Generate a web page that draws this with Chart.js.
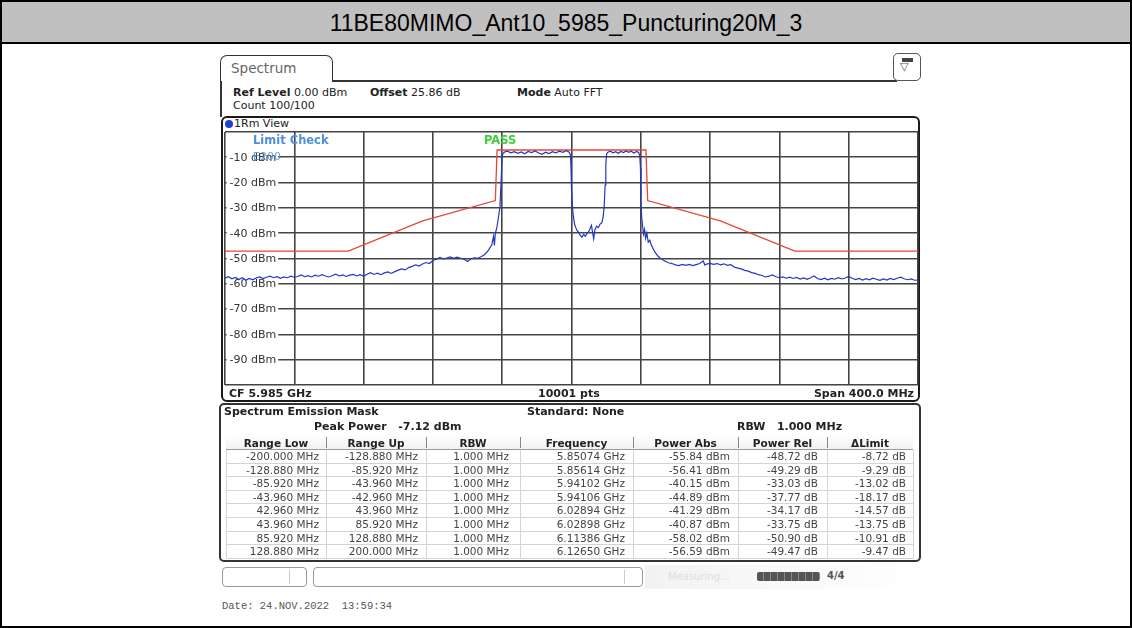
<!DOCTYPE html>
<html><head><meta charset="utf-8">
<script src="https://cdn.jsdelivr.net/npm/chart.js@4.4.0/dist/chart.umd.min.js"></script>
<style>
html,body{margin:0;padding:0;background:#fff;}
#page{position:relative;width:1132px;height:628px;overflow:hidden;font-family:"DejaVu Sans",sans-serif;}
.a{position:absolute;white-space:nowrap;}
.t11{font-size:11px;line-height:13px;color:#222;}
.b{font-weight:bold;}
.cell{position:absolute;box-sizing:border-box;white-space:nowrap;font-size:10.5px;color:#444;text-align:right;overflow:hidden;}
.hcell{position:absolute;box-sizing:border-box;white-space:nowrap;font-size:10.5px;font-weight:bold;color:#222;text-align:center;}
</style></head><body>
<div id="page">
  <div class="a" style="left:0;top:0;width:1132px;height:628px;box-sizing:border-box;border:2px solid #000;"></div>
  <div class="a" style="left:2px;top:2px;width:1128px;height:40px;background:#c0c0c0;border-bottom:2px solid #000;text-align:center;font-family:'Liberation Sans',Arial,sans-serif;font-size:23px;line-height:42px;color:#000;">11BE80MIMO_Ant10_5985_Puncturing20M_3</div>

  <!-- tab -->
  <div class="a" style="left:220px;top:55px;width:113px;height:27px;box-sizing:border-box;border:1.5px solid #333;border-bottom:none;border-radius:7px 7px 0 0;background:#fff;"></div>
  <div class="a" style="left:231px;top:60px;font-size:13.5px;line-height:16px;color:#666;">Spectrum</div>
  <div class="a" style="left:332px;top:80px;width:565px;height:1.5px;background:#333;"></div>
  <div class="a" style="left:893px;top:53px;width:28px;height:28px;box-sizing:border-box;border:1.5px solid #555;border-radius:5px;background:#fff;"></div>
  <div class="a" style="left:902px;top:58px;width:11px;height:4px;background:#444;"></div>
  <div class="a" style="left:900px;top:61px;font-size:11px;line-height:12px;color:#555;">▽</div>
  <div class="a" style="left:220px;top:81px;width:1.5px;height:36px;background:#333;"></div>

  <!-- info -->
  <div class="a t11" style="left:233px;top:86px;"><span class="b">Ref Level</span> 0.00 dBm</div>
  <div class="a t11" style="left:370px;top:86px;"><span class="b">Offset</span> 25.86 dB</div>
  <div class="a t11" style="left:517px;top:86px;"><span class="b">Mode</span> Auto FFT</div>
  <div class="a t11" style="left:233px;top:99px;">Count 100/100</div>

  <!-- plot window frame -->
  <div class="a" style="left:221px;top:116px;width:699px;height:286px;box-sizing:border-box;border:2px solid #1a1a1a;border-radius:6px;background:#fff;"></div>
  <div class="a" style="left:225px;top:120px;width:8px;height:8px;border-radius:50%;background:#1f3fd8;"></div>
  <div class="a t11" style="left:234px;top:117px;">1Rm View</div>

  <canvas id="c" width="702" height="262" style="position:absolute;left:220px;top:128px;"></canvas>

  <div class="a b" style="left:253px;top:133px;font-size:11.5px;line-height:14px;color:#4d8fe0;">Limit Check</div>
  <div class="a b" style="left:484px;top:133px;font-size:11.5px;line-height:14px;color:#3ccf3c;">PASS</div>
  <div class="a" style="left:253px;top:150px;font-size:11px;line-height:13px;color:#4d8fe0;opacity:0.85;">E200</div>

  <div class="a t11 b" style="left:229px;top:387px;">CF 5.985 GHz</div>
  <div class="a t11 b" style="left:538px;top:387px;">10001 pts</div>
  <div class="a t11 b" style="left:808px;top:387px;width:106px;text-align:right;">Span 400.0 MHz</div>

  <!-- table panel -->
  <div class="a" style="left:219px;top:403px;width:702px;height:159px;box-sizing:border-box;border:2px solid #333;border-radius:5px;background:#fff;"></div>
  <div class="a t11 b" style="left:224px;top:405px;">Spectrum Emission Mask</div>
  <div class="a t11 b" style="left:527px;top:405px;">Standard: None</div>
  <div class="a t11 b" style="left:314px;top:420px;">Peak Power&nbsp;&nbsp;&nbsp;-7.12 dBm</div>
  <div class="a t11 b" style="left:737px;top:420px;">RBW&nbsp;&nbsp;&nbsp;1.000 MHz</div>
  <div id="tbl"></div>

  <!-- status bar -->
  <div class="a" style="left:222px;top:567px;width:85px;height:20px;box-sizing:border-box;border:1px solid #999;border-radius:4px;background:#fff;"></div>
  <div class="a" style="left:289px;top:570px;width:1px;height:14px;background:#ccc;"></div>
  <div class="a" style="left:313px;top:567px;width:330px;height:20px;box-sizing:border-box;border:1px solid #999;border-radius:4px;background:#fff;"></div>
  <div class="a" style="left:624px;top:570px;width:1px;height:14px;background:#ccc;"></div>
  <div class="a" style="left:645px;top:565px;width:275px;height:24px;background:linear-gradient(to right,#f2f2f2,#fafafa 60%,#fff);"></div>
  <div class="a" style="left:668px;top:571px;font-size:10px;line-height:12px;color:#ddd;">Measuring...</div>
  <div class="a" style="left:757px;top:572px;width:63px;height:9px;background:repeating-linear-gradient(to right,#555 0,#555 6px,#888 6px,#888 7px);border-radius:2px;"></div>
  <div class="a" style="left:827px;top:570px;font-size:10px;line-height:12px;color:#555;font-weight:bold;">4/4</div>

  <div class="a" style="left:222px;top:600px;font-family:'Liberation Mono',monospace;font-size:10.5px;line-height:13px;color:#555;">Date: 24.NOV.2022&nbsp;&nbsp;13:59:34</div>
</div>
<script>
// ---- trace (Clear/Write, RM detector) : frequency offset in MHz, level in dBm
const traceFreq = [
 -200,-198,-196,-194,-192,-190,-188,-186,-184,-182,-180,-178,-176,-174,-172,-170,-168,-166,-164,-162,
 -160,-158,-156,-154,-152,-150,-148,-146,-144,-142,-140,-138,-136,-134,-132,-130,-128,-126,-124,-122,
 -120,-118,-116,-114,-112,-110,-108,-106,-104,-102,-100,-98,-96,-94,-92,-90,-88,-86,-84,-82,
 -80,-78,-76,-74,-72,-70,-68,-66,-64,-62,-60,-58,-56,-54,-52,-50,-48,-46,-45,-44.5,
 -44,-43,-42,-41.3,-40.8,-40.3,-40,-39.5,-39,-37,-35,-33,-31,-29,-27,-25,-23,-21,-19,-17,
 -15,-13,-11,-9,-7,-5,-3,-1.5,-0.6,-0.3,0,0.4,1,1.8,2.6,3.2,4,5,6,7,
 8,9,10,10.8,11.5,12.2,12.8,13.5,14.5,15.5,16.5,17.5,18.3,18.9,19.4,19.8,20.3,21,22.5,24,
 25.5,27,28.5,30,31.5,33,34.5,36,37.5,38.8,39.4,39.8,40.1,40.5,41,41.6,42.2,42.8,43.5,44.3,
 45.2,46,47,48,49,50,51,52.5,54,56,58,60,62,64,66,68,70,72,74,76,
 77,78,80,82,84,86,88,90,92,94,96,98,100,102,104,106,108,110,112,114,
 116,118,120,122,124,126,128,130,132,134,136,138,140,142,144,146,148,150,152,154,
 156,158,160,162,164,166,168,170,172,174,176,178,180,182,184,186,188,190,192,194,
 196,198,200
];
const traceLevel = [
 -57.8,-57.2,-58.0,-57.5,-58.3,-57.6,-58.6,-57.9,-58.4,-57.7,-57.3,-57.9,-57.4,-57.0,-57.6,-57.2,-57.8,-57.3,-57.6,-57.0,
 -57.4,-57.1,-56.5,-57.2,-56.8,-57.3,-56.6,-57.0,-56.4,-56.9,-57.3,-56.7,-56.2,-56.9,-56.5,-57.1,-56.6,-56.3,-56.9,-56.4,
 -57.0,-56.2,-55.6,-56.3,-55.8,-56.4,-55.7,-55.3,-55.9,-55.2,-54.6,-54.1,-54.5,-53.6,-53.1,-52.5,-53.0,-52.2,-51.6,-52.0,
 -50.8,-50.3,-49.6,-50.1,-49.8,-49.4,-49.9,-49.5,-49.9,-50.3,-51.2,-50.1,-49.7,-49.9,-49.2,-48.4,-46.8,-44.6,-41.2,-44.8,
 -40.3,-37.5,-33.0,-29.6,-22.0,-14.0,-9.5,-8.3,-8.0,-7.6,-8.2,-7.8,-8.4,-7.9,-8.6,-7.7,-8.1,-7.5,-8.3,-8.8,
 -8.0,-8.5,-7.8,-8.2,-7.6,-8.0,-7.4,-7.9,-9.0,-14.0,-22.0,-28.0,-33.0,-36.5,-38.0,-38.9,-39.6,-40.8,-41.6,-40.5,
 -41.2,-40.1,-39.3,-38.0,-36.9,-39.8,-42.2,-38.6,-37.2,-37.8,-36.4,-35.9,-33.5,-29.0,-21.0,-13.0,-8.6,-8.0,-7.6,-8.2,
 -7.8,-8.4,-7.7,-8.1,-7.5,-8.0,-7.6,-8.3,-7.7,-8.1,-9.5,-14.0,-28.0,-33.5,-37.0,-40.5,-38.6,-42.0,-40.0,-43.5,
 -42.8,-44.6,-46.0,-47.3,-48.3,-49.1,-49.8,-50.4,-51.1,-51.7,-52.0,-52.5,-52.8,-52.3,-52.7,-52.3,-52.8,-52.4,-52.0,-51.0,
 -52.6,-52.2,-51.9,-52.3,-52.0,-52.5,-52.1,-52.7,-52.4,-53.4,-53.8,-54.1,-54.7,-55.0,-55.6,-55.9,-56.4,-56.7,-57.3,-57.0,
 -56.5,-57.2,-57.6,-57.3,-57.8,-57.4,-57.9,-57.5,-58.1,-57.7,-58.2,-57.6,-56.9,-57.9,-58.3,-57.8,-58.4,-57.9,-58.2,-57.6,
 -58.1,-57.7,-57.1,-57.8,-58.3,-57.9,-58.5,-58.0,-58.4,-57.8,-58.2,-58.6,-58.1,-58.5,-57.9,-58.3,-57.8,-57.4,-58.0,-58.4,
 -58.1,-58.6,-58.5
];
// ---- spectrum emission mask limit line
const limitFreq  = [-200, -128.88, -85.92, -43.96, -42.96, 42.96, 43.96, 85.92, 128.88, 200];
const limitLevel = [-47.12, -47.12, -35.12, -27.12, -7.12, -7.12, -27.12, -35.12, -47.12, -47.12];
// ---- axis ticks
const yTickValues = [-10, -20, -30, -40, -50, -60, -70, -80, -90];
const yTickLabels = ['-10 dBm','-20 dBm','-30 dBm','-40 dBm','-50 dBm','-60 dBm','-70 dBm','-80 dBm','-90 dBm'];
// ---- result table
const tableHeaders = ['Range Low','Range Up','RBW','Frequency','Power Abs','Power Rel','\u0394Limit'];
const rangeLow  = ['-200.000 MHz','-128.880 MHz','-85.920 MHz','-43.960 MHz','42.960 MHz','43.960 MHz','85.920 MHz','128.880 MHz'];
const rangeUp   = ['-128.880 MHz','-85.920 MHz','-43.960 MHz','-42.960 MHz','43.960 MHz','85.920 MHz','128.880 MHz','200.000 MHz'];
const rbwCol    = ['1.000 MHz','1.000 MHz','1.000 MHz','1.000 MHz','1.000 MHz','1.000 MHz','1.000 MHz','1.000 MHz'];
const freqCol   = ['5.85074 GHz','5.85614 GHz','5.94102 GHz','5.94106 GHz','6.02894 GHz','6.02898 GHz','6.11386 GHz','6.12650 GHz'];
const powerAbs  = ['-55.84 dBm','-56.41 dBm','-40.15 dBm','-44.89 dBm','-41.29 dBm','-40.87 dBm','-58.02 dBm','-56.59 dBm'];
const powerRel  = ['-48.72 dB','-49.29 dB','-33.03 dB','-37.77 dB','-34.17 dB','-33.75 dB','-50.90 dB','-49.47 dB'];
const deltaLimit= ['-8.72 dB','-9.29 dB','-13.02 dB','-18.17 dB','-14.57 dB','-13.75 dB','-10.91 dB','-9.47 dB'];

// build table
(function(){
  const edges = [226, 326, 426, 520, 633, 738, 827, 913];
  const padR = [7, 8, 11, 8, 8, 9, 7];
  const cols = [rangeLow, rangeUp, rbwCol, freqCol, powerAbs, powerRel, deltaLimit];
  const headTop = 436, headH = 14, rowH = 13.6;
  const tbl = document.getElementById('tbl');
  let html = '';
  html += `<div class="a" style="left:${edges[0]}px;top:${headTop}px;width:${edges[7]-edges[0]}px;height:${headH}px;background:linear-gradient(#fff,#f1f1f1);border-bottom:1px solid #999;box-sizing:border-box;"></div>`;
  for (let c = 0; c < 7; c++) {
    html += `<div class="hcell" style="left:${edges[c]}px;top:${headTop}px;width:${edges[c+1]-edges[c]}px;line-height:${headH}px;">${tableHeaders[c]}</div>`;
    if (c > 0) html += `<div class="a" style="left:${edges[c]}px;top:${headTop+1}px;width:1px;height:${headH-3}px;background:#888;"></div>`;
  }
  const bodyTop = headTop + headH;
  for (let r = 0; r < 8; r++) {
    const y = bodyTop + r * rowH;
    html += `<div class="a" style="left:${edges[0]}px;top:${y+rowH-1}px;width:${edges[7]-edges[0]}px;height:1px;background:#d4d4d4;"></div>`;
    for (let c = 0; c < 7; c++) {
      html += `<div class="cell" style="left:${edges[c]}px;top:${y}px;width:${edges[c+1]-edges[c]}px;height:${rowH}px;line-height:${rowH}px;padding-right:${padR[c]}px;">${cols[c][r]}</div>`;
    }
  }
  for (let c = 1; c < 7; c++) {
    html += `<div class="a" style="left:${edges[c]}px;top:${bodyTop}px;width:1px;height:${8*rowH}px;background:#d4d4d4;"></div>`;
  }
  html += `<div class="a" style="left:${edges[0]}px;top:${bodyTop}px;width:1px;height:${8*rowH}px;background:#d4d4d4;"></div>`;
  html += `<div class="a" style="left:${edges[7]}px;top:${bodyTop}px;width:1px;height:${8*rowH}px;background:#d4d4d4;"></div>`;
  tbl.innerHTML = html;
})();

const yLabelPlugin = {
  id: 'ylabels',
  beforeDatasetsDraw(chart) {
    const { ctx, chartArea, scales: { y } } = chart;
    ctx.save();
    ctx.font = '11px "DejaVu Sans"';
    ctx.textBaseline = 'middle';
    yTickValues.forEach((v, i) => {
      const py = y.getPixelForValue(v);
      const w = ctx.measureText(yTickLabels[i]).width;
      ctx.fillStyle = '#fff';
      ctx.fillRect(chartArea.left + 1.5, py - 6, w + 5, 12);
      ctx.fillStyle = '#333';
      ctx.fillText(yTickLabels[i], chartArea.left + 4.5, py + 0.5);
    });
    ctx.restore();
  }
};

new Chart(document.getElementById('c'), {
  type: 'line',
  data: {
    datasets: [
      {
        label: 'Trace 1',
        data: traceFreq.map((f, i) => ({ x: f, y: traceLevel[i] })),
        borderColor: '#2536c2',
        borderWidth: 1.2,
        pointRadius: 0,
        tension: 0,
        fill: false
      },
      {
        label: 'Limit',
        data: limitFreq.map((f, i) => ({ x: f, y: limitLevel[i] })),
        borderColor: '#e5463b',
        borderWidth: 1.3,
        pointRadius: 0,
        tension: 0,
        fill: false
      }
    ]
  },
  options: {
    responsive: false,
    animation: false,
    devicePixelRatio: 1,
    layout: { padding: { left: 5, top: 4, right: 4, bottom: 5 } },
    plugins: { legend: { display: false }, tooltip: { enabled: false } },
    scales: {
      x: {
        type: 'linear', min: -200, max: 200,
        ticks: { display: false, stepSize: 40 },
        grid: { color: '#444', lineWidth: 1.6, drawTicks: false },
        border: { display: false },
        afterFit(s) { s.height = 0; }
      },
      y: {
        type: 'linear', min: -100, max: 0,
        ticks: { display: false, stepSize: 10 },
        grid: { color: '#444', lineWidth: 1.6, drawTicks: false },
        border: { display: false },
        afterFit(s) { s.width = 0; }
      }
    }
  },
  plugins: [yLabelPlugin]
});
</script>
</body></html>
